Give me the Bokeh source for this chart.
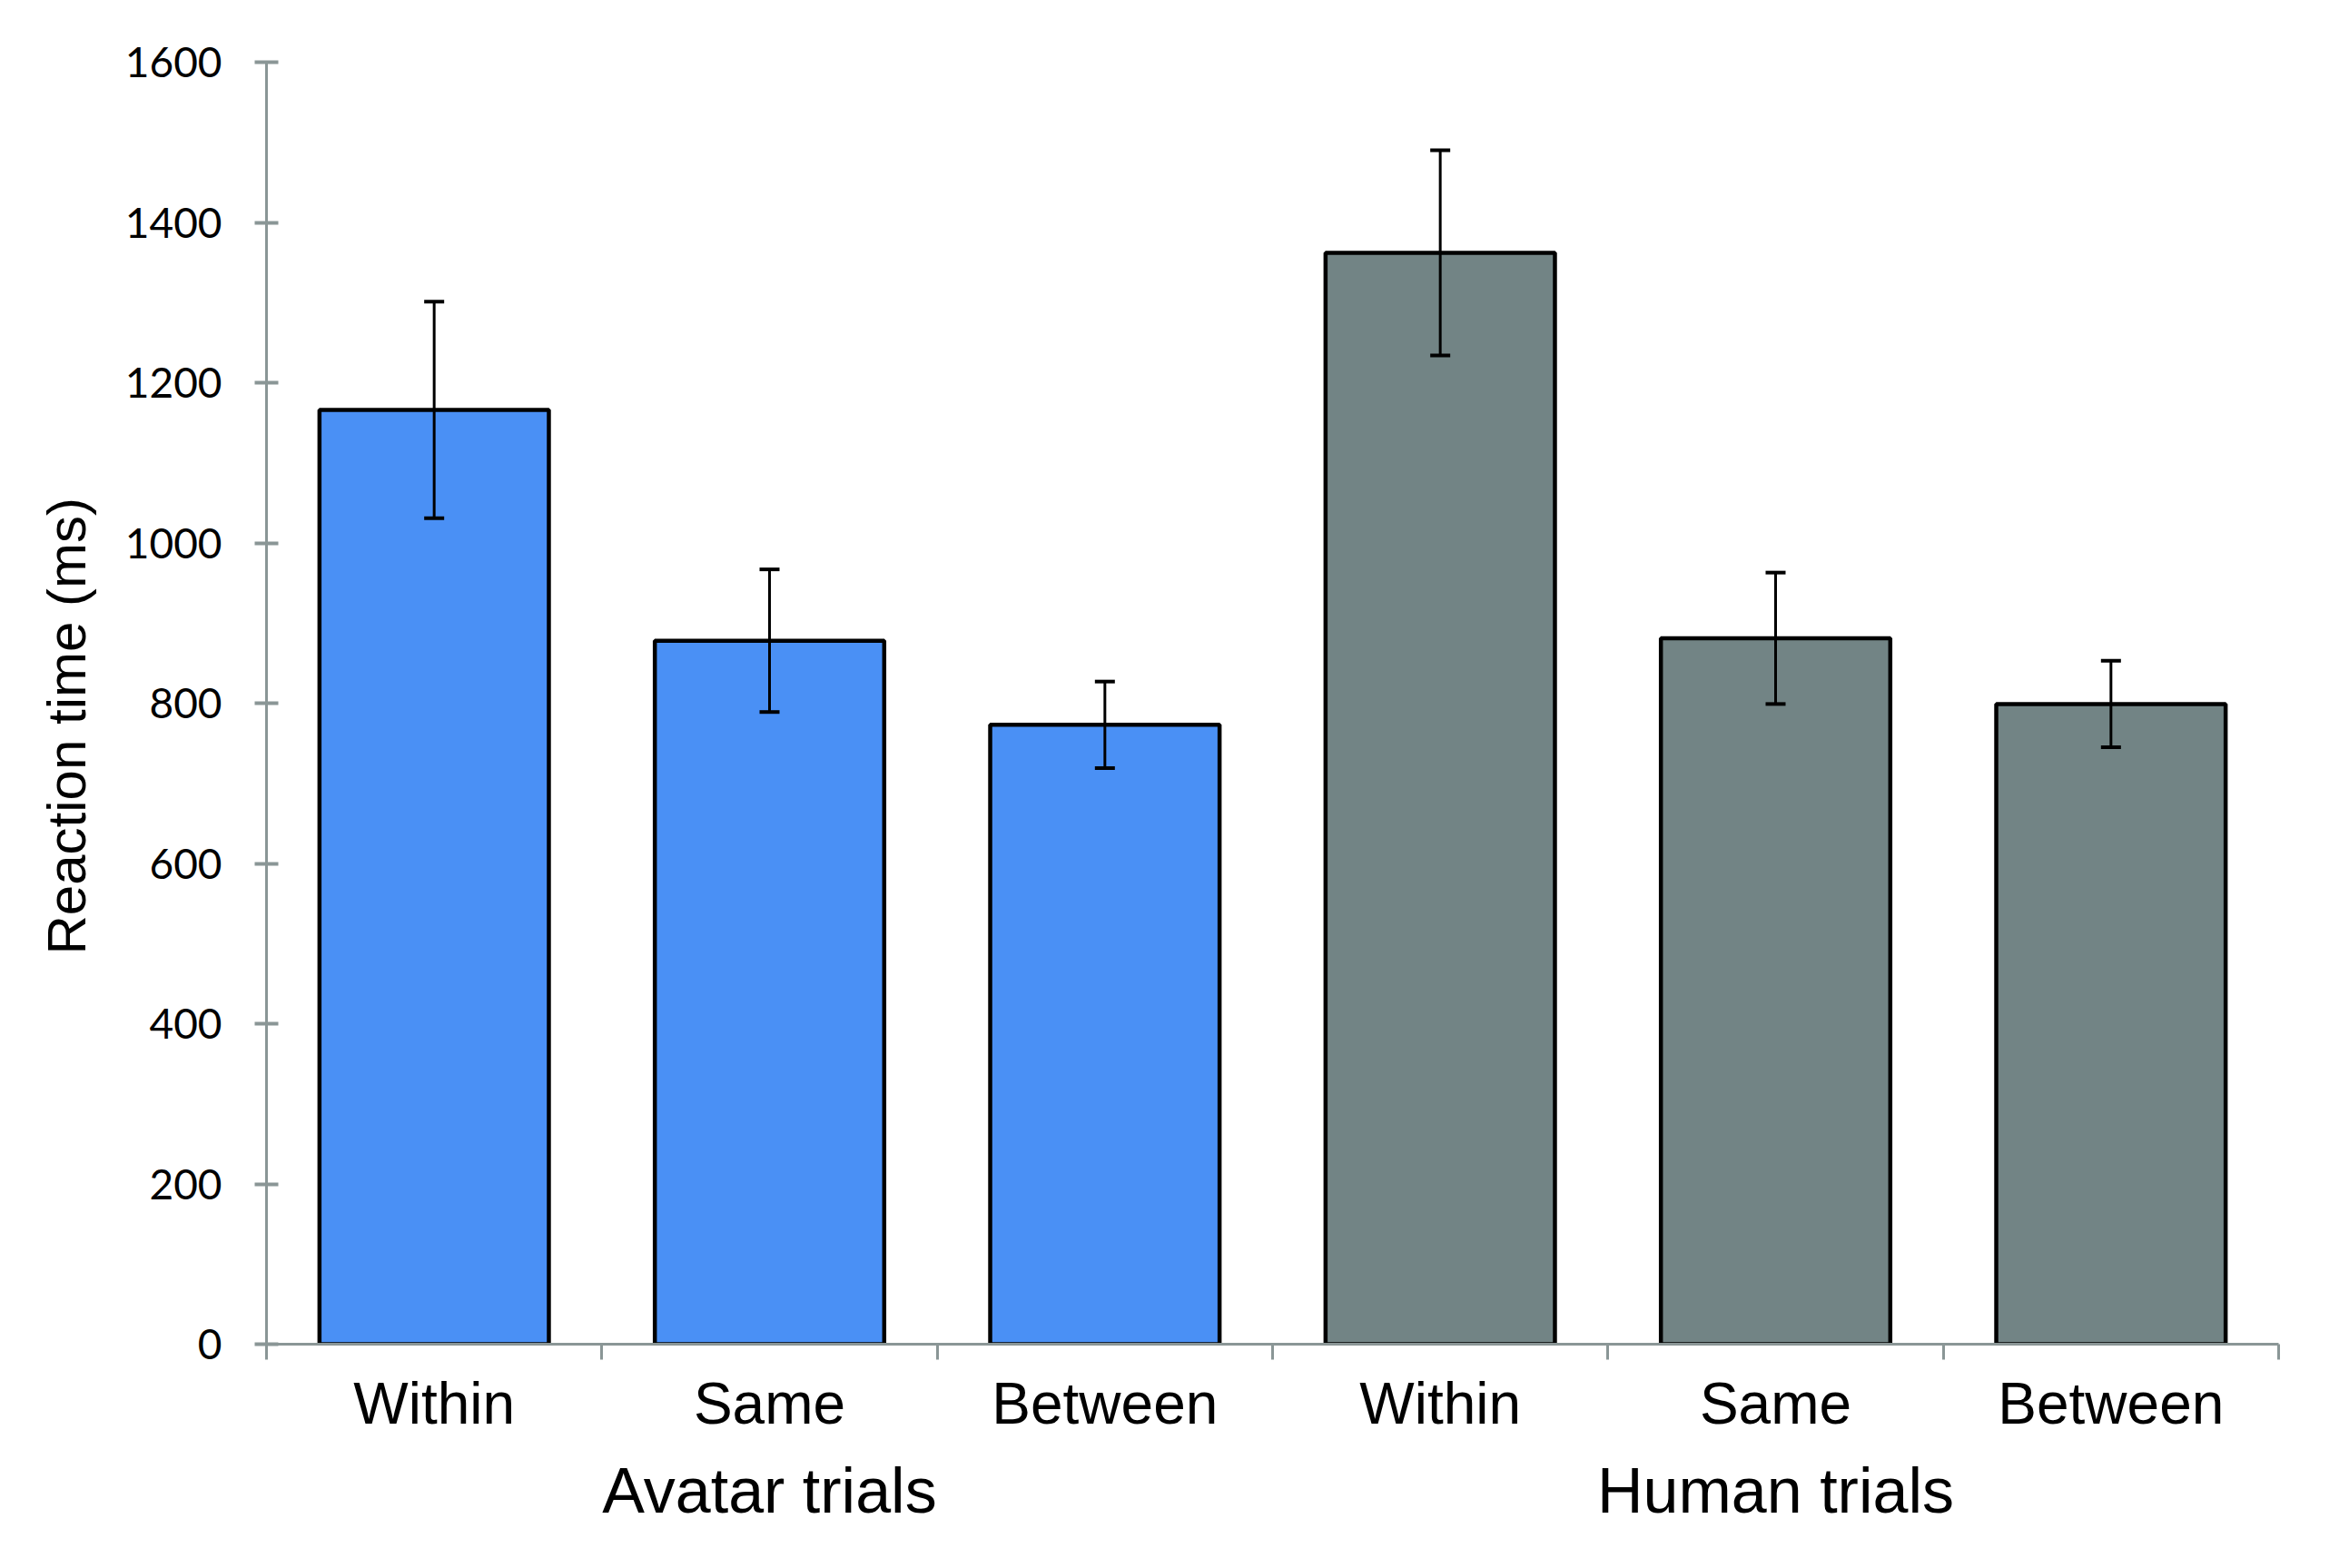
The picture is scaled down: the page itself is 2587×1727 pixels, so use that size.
from bokeh.plotting import figure
from bokeh.models import Range1d, FixedTicker, LinearAxis, ColumnDataSource, Whisker, TeeHead, Title
from bokeh.embed import file_html
from bokeh.resources import INLINE

# ---- data ----
groups = ["Avatar trials", "Human trials"]
conditions = ["Within", "Same", "Between"]
avatar_rt = [1166, 878, 773]
avatar_err = [135, 89, 54]
human_rt = [1362, 881, 799]
human_err = [128, 82, 54]
y_ticks = [0, 200, 400, 600, 800, 1000, 1200, 1400, 1600]
group_colors = ["#4A90F5", "#728485"]
y_label = "Reaction time (ms)"

AXIS = "#8A9696"

rts = [avatar_rt, human_rt]
errs = [avatar_err, human_err]

xs, tops, uppers, lowers, fills, labels = [], [], [], [], [], []
for gi, g in enumerate(groups):
    for ci, c in enumerate(conditions):
        xpos = gi * len(conditions) + ci + 0.5
        xs.append(xpos)
        tops.append(rts[gi][ci])
        uppers.append(rts[gi][ci] + errs[gi][ci])
        lowers.append(rts[gi][ci] - errs[gi][ci])
        fills.append(group_colors[gi])
        labels.append(c)

n = len(xs)
src = ColumnDataSource(dict(x=xs, top=tops, upper=uppers, lower=lowers, fill=fills))

p = figure(frame_width=2216, frame_height=1412,
           x_range=Range1d(0, n), y_range=Range1d(0, 1600),
           output_backend="svg", toolbar_location=None,
           min_border_left=293, min_border_top=68, min_border_right=40,
           min_border_bottom=210)
p.xgrid.visible = False
p.ygrid.visible = False
p.outline_line_color = None
p.background_fill_color = "white"
p.border_fill_color = "white"

p.vbar(x="x", top="top", width=0.684, fill_color="fill", line_color="black",
       line_width=4.5, source=src)

w = Whisker(source=src, base="x", upper="upper", lower="lower",
            line_color="black", line_width=3, level="overlay",
            upper_head=TeeHead(size=22, line_width=4, line_color="black"),
            lower_head=TeeHead(size=22, line_width=4, line_color="black"))
p.add_layout(w)

# y axis
ya = p.yaxis[0]
ya.ticker = FixedTicker(ticks=y_ticks)
ya.axis_line_color = AXIS
ya.axis_line_width = 3
ya.major_tick_line_color = AXIS
ya.major_tick_line_width = 4
ya.major_tick_in = 13
ya.major_tick_out = 13
ya.minor_tick_line_color = None
ya.major_label_text_font = "Lato"
ya.major_label_text_font_size = "46px"
ya.major_label_text_color = "black"
ya.major_label_standoff = 36

ylab = Title(text=y_label, align="left", offset=429,
             text_font="Liberation Sans", text_font_style="normal",
             text_font_size="60px", text_color="black", standoff=56)
p.add_layout(ylab, "left")

# x axis: category labels at centers, ticks at boundaries
xa = p.xaxis[0]
xa.ticker = FixedTicker(ticks=xs, minor_ticks=list(range(n + 1)))
xa.major_label_overrides = {xv: lab for xv, lab in zip(xs, labels)}
xa.axis_line_color = AXIS
xa.axis_line_width = 3
xa.major_tick_line_color = None
xa.major_tick_in = 0
xa.major_tick_out = 0
xa.minor_tick_line_color = AXIS
xa.minor_tick_line_width = 3
xa.minor_tick_in = 0
xa.minor_tick_out = 17
xa.major_label_text_font = "Liberation Sans"
xa.major_label_text_font_size = "64px"
xa.major_label_text_color = "black"
xa.major_label_standoff = 12

# group labels
gx = [len(conditions) * gi + (len(conditions)) / 2 for gi in range(len(groups))]
ga = LinearAxis(ticker=FixedTicker(ticks=gx),
                major_label_overrides={xv: g for xv, g in zip(gx, groups)})
ga.axis_line_color = None
ga.major_tick_line_color = None
ga.minor_tick_line_color = None
ga.major_label_text_font = "Liberation Sans"
ga.major_label_text_font_size = "70px"
ga.major_label_text_color = "black"
ga.major_label_standoff = 12
p.add_layout(ga, "below")

open("out.html", "w").write(file_html(p, INLINE))
